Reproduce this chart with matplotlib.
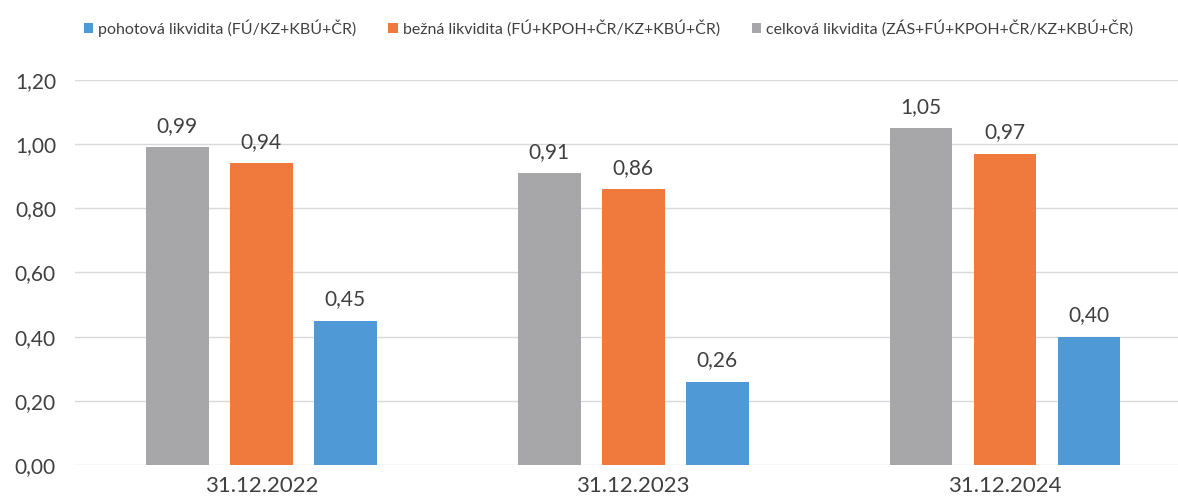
import numpy as np
import matplotlib
matplotlib.use("Agg")
import matplotlib.pyplot as plt

plt.rcParams['font.family'] = ['Lato', 'DejaVu Sans']

categories = ['31.12.2022', '31.12.2023', '31.12.2024']
celkova = [0.99, 0.91, 1.05]
bezna = [0.94, 0.86, 0.97]
pohotova = [0.45, 0.26, 0.40]

labels = ['pohotová likvidita (FÚ/KZ+KBÚ+ČR)',
          'bežná likvidita (FÚ+KPOH+ČR/KZ+KBÚ+ČR)',
          'celková likvidita (ZÁS+FÚ+KPOH+ČR/KZ+KBÚ+ČR)']
colors = {'poh': '#4F9AD6', 'bez': '#F07A3E', 'cel': '#A7A6A9'}

fig = plt.figure(figsize=(11.78, 4.99), dpi=100)
ax = fig.add_axes([0.064, 0.068, 0.947, 0.772])

x = np.arange(len(categories))
w = 0.169
step = 0.226

b_cel = ax.bar(x - step, celkova, w, color=colors['cel'], label=labels[2], zorder=3)
b_bez = ax.bar(x, bezna, w, color=colors['bez'], label=labels[1], zorder=3)
b_poh = ax.bar(x + step, pohotova, w, color=colors['poh'], label=labels[0], zorder=3)

for bars in (b_cel, b_bez, b_poh):
    for b in bars:
        v = b.get_height()
        ax.annotate(('%.2f' % v).replace('.', ','),
                    (b.get_x() + b.get_width() / 2, v),
                    xytext=(0, 8), textcoords='offset points',
                    ha='center', va='bottom', fontsize=15, color='#404040')

ax.set_ylim(0, 1.2)
ax.set_xlim(-0.5, 2.5)
yt = np.arange(0, 1.21, 0.2)
ax.set_yticks(yt)
ax.set_yticklabels([('%.2f' % t).replace('.', ',') for t in yt])
ax.set_xticks(x)
ax.set_xticklabels(categories)
ax.tick_params(axis='both', length=0, labelsize=15, colors='#404040')
ax.tick_params(axis='x', labelsize=16, pad=8)
ax.tick_params(axis='y', pad=14)
ax.grid(axis='y', color='#D9D9D9', linewidth=1, zorder=0)
for s in ax.spines.values():
    s.set_visible(False)

handles = [b_poh, b_bez, b_cel]
fig.legend(handles, labels, loc='upper left', bbox_to_anchor=(0.059, 0.99),
           ncol=3, frameon=False, fontsize=11.5, handlelength=0.6,
           handleheight=0.6, handletextpad=0.3, columnspacing=2.0,
           labelcolor='#404040')

fig.savefig('out.png', dpi=100)
